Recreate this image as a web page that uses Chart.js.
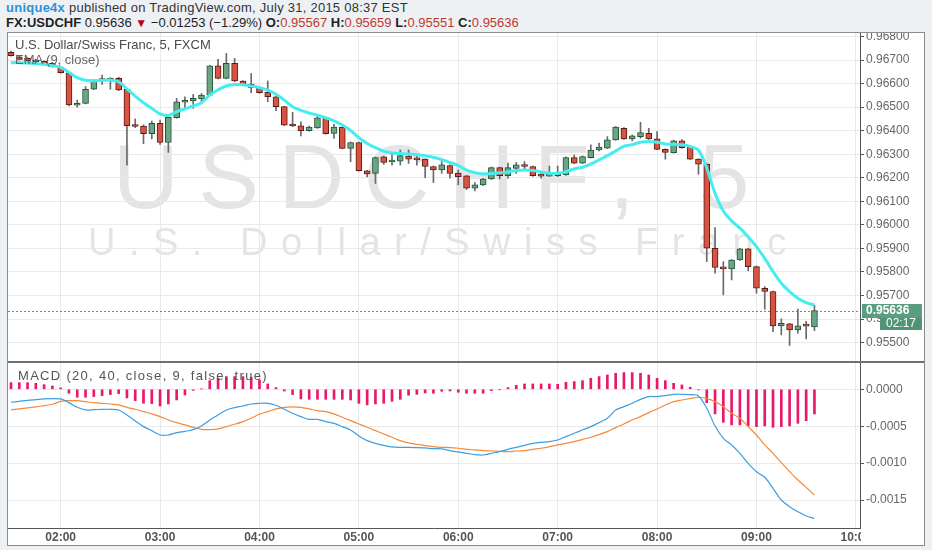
<!DOCTYPE html>
<html><head><meta charset="utf-8">
<script src="https://cdn.jsdelivr.net/npm/chart.js@4.4.0/dist/chart.umd.min.js"></script>
<style>
html,body{margin:0;padding:0;background:#eef1f4;width:932px;height:550px;overflow:hidden;font-family:'Liberation Sans',Arial,sans-serif;}
.abs{position:absolute;white-space:nowrap}
#hdr1{left:6px;top:0;font-size:13px;line-height:15px;color:#333;letter-spacing:0.25px}
#hdr1 .user{color:#2a93d5;font-weight:bold}
#hdr2{left:6px;top:15px;font-size:13px;line-height:15px;color:#222}
#hdr2 b{font-weight:bold}
#hdr2 .r{color:#c0392b}
#hdr2 .dn{color:#c0001b;font-size:12px}
#frame{left:7px;top:32px;width:918px;height:514px;box-sizing:border-box;border:1px solid #8c8c8c;background:#fff}
#p1{left:8px;top:33px;width:916px;height:329px}
#sep{left:8px;top:361px;width:916px;height:2px;background:#707070}
#p2{left:8px;top:363px;width:916px;height:182px}
#t1{left:15px;top:37px;font-size:13px;line-height:15px;color:#4a4a4a;z-index:5}
#t2{left:15px;top:52px;font-size:13px;line-height:15px;color:#666;z-index:5}
#t3{left:18px;top:368px;font-size:13px;line-height:15px;color:#555;letter-spacing:1.3px;z-index:5}
</style></head>
<body>
<div id="hdr1" class="abs"><span class="user">unique4x</span> published on TradingView.com, July 31, 2015 08:37 EST</div>
<div id="hdr2" class="abs"></div>
<div id="frame" class="abs"></div>
<div id="p1" class="abs"><canvas id="c1"></canvas></div>
<div id="sep" class="abs"></div>
<div id="p2" class="abs"><canvas id="c2"></canvas></div>
<div id="t1" class="abs">U.S. Dollar/Swiss Franc, 5, FXCM</div>
<div id="t2" class="abs">EMA (9, close)</div>
<div id="t3" class="abs">MACD (20, 40, close, 9, false, true)</div>
<script>
// ---- data (5-minute bars, 01:30 .. 09:35) ----
const open = [0.96733,0.96714,0.96707,0.96700,0.96694,0.96686,0.96669,0.96646,0.96508,0.96516,
0.96576,0.96618,0.96612,0.96622,0.96576,0.96422,0.96420,0.96387,0.96431,0.96350,
0.96455,0.96521,0.96527,0.96535,0.96551,0.96675,0.96622,0.96686,0.96611,0.96598,
0.96584,0.96563,0.96544,0.96502,0.96428,0.96421,0.96400,0.96412,0.96455,0.96388,
0.96414,0.96325,0.96350,0.96230,0.96219,0.96289,0.96267,0.96271,0.96292,0.96279,
0.96279,0.96248,0.96233,0.96252,0.96219,0.96208,0.96156,0.96170,0.96195,0.96243,
0.96209,0.96240,0.96252,0.96248,0.96209,0.96207,0.96209,0.96212,0.96286,0.96262,
0.96286,0.96318,0.96326,0.96361,0.96410,0.96365,0.96375,0.96389,0.96365,0.96321,
0.96307,0.96357,0.96330,0.96279,0.96258,0.95901,0.95819,0.95813,0.95851,0.95898,
0.95823,0.95731,0.95717,0.95571,0.95580,0.95554,0.95573,0.95567];
const high = [0.96738,0.96718,0.96710,0.96703,0.96697,0.96689,0.96672,0.96648,0.96530,0.96587,
0.96617,0.96636,0.96625,0.96627,0.96578,0.96450,0.96425,0.96441,0.96445,0.96460,
0.96537,0.96544,0.96554,0.96558,0.96678,0.96703,0.96728,0.96707,0.96613,0.96643,
0.96587,0.96611,0.96546,0.96504,0.96478,0.96438,0.96420,0.96462,0.96458,0.96427,
0.96416,0.96352,0.96352,0.96232,0.96288,0.96292,0.96306,0.96318,0.96318,0.96296,
0.96281,0.96250,0.96269,0.96255,0.96233,0.96210,0.96180,0.96198,0.96246,0.96245,
0.96262,0.96265,0.96269,0.96250,0.96219,0.96250,0.96250,0.96289,0.96297,0.96293,
0.96340,0.96347,0.96375,0.96418,0.96413,0.96382,0.96436,0.96410,0.96396,0.96323,
0.96360,0.96362,0.96332,0.96281,0.96260,0.95989,0.95844,0.95853,0.95900,0.95900,
0.95825,0.95738,0.95719,0.95601,0.95582,0.95643,0.95590,0.95659];
const low = [0.96716,0.96700,0.96694,0.96689,0.96683,0.96670,0.96644,0.96505,0.96500,0.96514,
0.96574,0.96597,0.96576,0.96570,0.96254,0.96413,0.96345,0.96365,0.96342,0.96308,
0.96453,0.96495,0.96495,0.96516,0.96549,0.96620,0.96620,0.96608,0.96595,0.96561,
0.96559,0.96523,0.96485,0.96422,0.96417,0.96378,0.96398,0.96410,0.96385,0.96367,
0.96323,0.96268,0.96228,0.96204,0.96176,0.96257,0.96254,0.96254,0.96261,0.96254,
0.96201,0.96180,0.96219,0.96198,0.96170,0.96150,0.96144,0.96167,0.96193,0.96195,
0.96198,0.96219,0.96233,0.96206,0.96198,0.96206,0.96205,0.96210,0.96260,0.96260,
0.96284,0.96314,0.96324,0.96359,0.96363,0.96357,0.96368,0.96363,0.96319,0.96279,
0.96305,0.96326,0.96277,0.96215,0.95844,0.95795,0.95703,0.95766,0.95849,0.95805,
0.95710,0.95642,0.95547,0.95533,0.95488,0.95540,0.95516,0.95551];
const close = [0.96719,0.96703,0.96697,0.96692,0.96686,0.96672,0.96646,0.96509,0.96514,0.96576,
0.96615,0.96613,0.96622,0.96573,0.96421,0.96418,0.96387,0.96431,0.96350,0.96457,
0.96523,0.96525,0.96537,0.96551,0.96675,0.96622,0.96686,0.96611,0.96597,0.96584,
0.96561,0.96544,0.96502,0.96424,0.96420,0.96400,0.96415,0.96455,0.96387,0.96415,
0.96325,0.96350,0.96230,0.96216,0.96286,0.96265,0.96269,0.96294,0.96279,0.96276,
0.96248,0.96233,0.96255,0.96219,0.96205,0.96156,0.96170,0.96195,0.96243,0.96209,
0.96243,0.96255,0.96248,0.96209,0.96207,0.96210,0.96215,0.96286,0.96262,0.96290,
0.96318,0.96330,0.96361,0.96415,0.96365,0.96378,0.96392,0.96365,0.96321,0.96308,
0.96357,0.96328,0.96279,0.96258,0.95901,0.95819,0.95813,0.95851,0.95898,0.95823,
0.95731,0.95717,0.95571,0.95582,0.95554,0.95571,0.95570,0.95636];
const ema9 = [0.96689,0.96689,0.96687,0.96685,0.96682,0.96676,0.96669,0.96648,0.96625,0.96614,
0.96612,0.96614,0.96615,0.96608,0.96577,0.96547,0.96519,0.96495,0.96471,0.96465,
0.96481,0.96493,0.96505,0.96519,0.96551,0.96574,0.96590,0.96596,0.96595,0.96590,
0.96583,0.96572,0.96555,0.96530,0.96502,0.96486,0.96475,0.96466,0.96455,0.96442,
0.96424,0.96401,0.96370,0.96346,0.96328,0.96313,0.96305,0.96303,0.96301,0.96298,
0.96294,0.96287,0.96277,0.96265,0.96252,0.96233,0.96222,0.96216,0.96218,0.96221,
0.96225,0.96231,0.96233,0.96231,0.96225,0.96219,0.96219,0.96226,0.96238,0.96245,
0.96258,0.96276,0.96294,0.96314,0.96334,0.96341,0.96351,0.96354,0.96351,0.96344,
0.96342,0.96340,0.96333,0.96317,0.96241,0.96134,0.96059,0.96017,0.95986,0.95950,
0.95908,0.95858,0.95802,0.95752,0.95717,0.95689,0.95670,0.95660];
const macdLine = [-0.000176,-0.000163,-0.000149,-0.000140,-0.000131,-0.000126,-0.000131,-0.000181,-0.000244,-0.000280,
-0.000276,-0.000271,-0.000271,-0.000280,-0.000348,-0.000429,-0.000506,-0.000560,-0.000619,-0.000619,
-0.000587,-0.000569,-0.000546,-0.000497,-0.000416,-0.000348,-0.000280,-0.000248,-0.000226,-0.000199,
-0.000190,-0.000190,-0.000217,-0.000271,-0.000325,-0.000370,-0.000407,-0.000407,-0.000438,-0.000461,
-0.000506,-0.000551,-0.000632,-0.000696,-0.000732,-0.000759,-0.000781,-0.000786,-0.000786,-0.000790,
-0.000795,-0.000804,-0.000808,-0.000831,-0.000849,-0.000867,-0.000885,-0.000890,-0.000867,-0.000845,
-0.000813,-0.000786,-0.000759,-0.000732,-0.000718,-0.000709,-0.000687,-0.000641,-0.000596,-0.000551,
-0.000506,-0.000452,-0.000393,-0.000280,-0.000235,-0.000190,-0.000136,-0.000099,-0.000099,-0.000086,
-0.000068,-0.000068,-0.000072,-0.000090,-0.000257,-0.000497,-0.000664,-0.000754,-0.000867,-0.001003,
-0.001116,-0.001192,-0.001341,-0.001500,-0.001590,-0.001658,-0.001716,-0.001748];
const signalLine = [-0.000280,-0.000266,-0.000253,-0.000239,-0.000221,-0.000203,-0.000163,-0.000154,-0.000154,-0.000167,
-0.000181,-0.000190,-0.000199,-0.000212,-0.000244,-0.000271,-0.000303,-0.000334,-0.000370,-0.000416,
-0.000452,-0.000483,-0.000515,-0.000542,-0.000546,-0.000537,-0.000506,-0.000474,-0.000438,-0.000393,
-0.000339,-0.000303,-0.000266,-0.000244,-0.000239,-0.000244,-0.000266,-0.000289,-0.000303,-0.000334,
-0.000379,-0.000425,-0.000470,-0.000515,-0.000560,-0.000605,-0.000650,-0.000696,-0.000727,-0.000745,
-0.000763,-0.000777,-0.000786,-0.000790,-0.000799,-0.000813,-0.000822,-0.000831,-0.000836,-0.000840,
-0.000845,-0.000836,-0.000831,-0.000813,-0.000799,-0.000777,-0.000754,-0.000732,-0.000709,-0.000678,
-0.000650,-0.000614,-0.000574,-0.000519,-0.000470,-0.000416,-0.000370,-0.000316,-0.000266,-0.000212,
-0.000167,-0.000145,-0.000126,-0.000108,-0.000126,-0.000167,-0.000235,-0.000325,-0.000393,-0.000506,
-0.000619,-0.000754,-0.000867,-0.000994,-0.001116,-0.001229,-0.001328,-0.001432];
const histogram = [0.000090,0.000090,0.000090,0.000081,0.000063,0.000045,0.000018,-0.000054,-0.000108,-0.000108,
-0.000099,-0.000086,-0.000072,-0.000059,-0.000117,-0.000154,-0.000190,-0.000194,-0.000226,-0.000199,
-0.000145,-0.000077,-0.000014,0.000005,0.000117,0.000149,0.000172,0.000172,0.000172,0.000163,
0.000126,0.000072,0.000023,-0.000023,-0.000072,-0.000131,-0.000136,-0.000136,-0.000136,-0.000136,
-0.000136,-0.000145,-0.000190,-0.000212,-0.000199,-0.000190,-0.000163,-0.000136,-0.000081,-0.000068,
-0.000050,-0.000054,-0.000027,-0.000023,-0.000041,-0.000054,-0.000054,-0.000054,-0.000018,-0.000005,
0.000023,0.000054,0.000072,0.000072,0.000072,0.000072,0.000068,0.000095,0.000104,0.000117,
0.000149,0.000172,0.000194,0.000217,0.000226,0.000226,0.000217,0.000194,0.000149,0.000117,
0.000081,0.000059,0.000027,-0.000009,-0.000181,-0.000334,-0.000447,-0.000483,-0.000483,-0.000497,
-0.000506,-0.000497,-0.000515,-0.000506,-0.000497,-0.000461,-0.000425,-0.000334];
const hourBars = [6,18,30,42,54,66,78,90,102];
const hourLabels = ['02:00','03:00','04:00','05:00','06:00','07:00','08:00','09:00','10:00'];
const priceTicks = [0.955,0.956,0.957,0.958,0.959,0.960,0.961,0.962,0.963,0.964,0.965,0.966,0.967,0.968];
const macdTicks = [0,-0.0005,-0.0010,-0.0015];
const countdown = '02:17';
const symbolName = 'USDCHF, 5';
const symbolDesc = 'U.S. Dollar/Swiss Franc';
const change = '\u22120.01253 (\u22121.29%)';

// ---- header from data ----
const L = close.length - 1;
document.getElementById('hdr2').innerHTML =
  '<b>FX:USDCHF</b> ' + close[L].toFixed(5) + ' <span class="dn">\u25BC</span> ' + change +
  ' <b>O:</b><span class="r">' + open[L].toFixed(5) + '</span> <b>H:</b><span class="r">' + high[L].toFixed(5) +
  '</span> <b>L:</b><span class="r">' + low[L].toFixed(5) + '</span> <b>C:</b><span class="r">' + close[L].toFixed(5) + '</span>';

const idx = close.map((_, i) => i);
const UPF = '#6ba583', DNF = '#d75442', UPB = '#225437', DNB = '#5b1a13';
const FONT = "'Liberation Sans', Arial, sans-serif";
const GRID = '#e9e9e9';
const X_MIN = -0.36, X_MAX = 102.5;

function fitRight(s){ s.width = 64; s.paddingTop = 0; s.paddingBottom = 0; }
function hourTicks(s){ s.ticks = hourBars.map(v => ({value: v})); }

function spaced(ctx, text, x, y, gap){
  for (const ch of text){ ctx.fillText(ch, x, y); x += ctx.measureText(ch).width + gap; }
}

const pricePlugin = {
  id: 'pricePlugin',
  beforeDraw(chart){
    const ctx = chart.ctx; ctx.save();
    ctx.fillStyle = '#e4e4e4'; ctx.textBaseline = 'alphabetic';
    ctx.font = '91px ' + FONT; spaced(ctx, symbolName, 105, 175, 19.5);
    ctx.font = '38px ' + FONT; spaced(ctx, symbolDesc, 80, 222, 13.5);
    ctx.restore();
  },
  beforeDatasetsDraw(chart){
    const ctx = chart.ctx, a = chart.chartArea, y = chart.scales.y.getPixelForValue(close[L]);
    ctx.save(); ctx.strokeStyle = '#4f9c86'; ctx.lineWidth = 1; ctx.setLineDash([2,2]);
    ctx.beginPath(); ctx.moveTo(a.left, Math.round(y)+0.5); ctx.lineTo(a.right, Math.round(y)+0.5); ctx.stroke();
    ctx.restore();
  },
  afterDraw(chart){
    const ctx = chart.ctx, a = chart.chartArea, y = Math.round(chart.scales.y.getPixelForValue(close[L]));
    ctx.save();
    ctx.fillStyle = '#5a9e80'; ctx.fillRect(a.right + 2, y - 7, 60, 14);
    ctx.fillStyle = '#4f9474'; ctx.fillRect(a.right + 20, y + 7, 42, 12);
    ctx.fillStyle = '#fff'; ctx.textBaseline = 'middle';
    ctx.font = 'bold 12px ' + FONT; ctx.fillText(close[L].toFixed(5), a.right + 6, y);
    ctx.font = '12px ' + FONT; ctx.fillText(countdown, a.right + 26, y + 13);
    ctx.restore();
  }
};

new Chart(document.getElementById('c1'), {
  type: 'bar',
  data: { datasets: [
    { type: 'line', data: idx.map(i => ({x: i, y: ema9[i]})), borderColor: '#44eef0', borderWidth: 3,
      pointRadius: 0, tension: 0.35, order: 1 },
    { data: idx.map(i => ({x: i, y: [open[i], close[i]]})), grouped: false, barThickness: 6, minBarLength: 2,
      backgroundColor: idx.map(i => close[i] > open[i] ? UPF : DNF),
      borderColor: idx.map(i => close[i] > open[i] ? UPB : DNB), borderWidth: 1, borderSkipped: false, order: 2 },
    { data: idx.map(i => ({x: i, y: [low[i], high[i]]})), grouped: false, barThickness: 1,
      backgroundColor: '#6a6a6c', order: 3 }
  ]},
  options: {
    responsive: true, maintainAspectRatio: false, animation: false, events: [],
    layout: { padding: 0 },
    plugins: { legend: {display: false}, tooltip: {enabled: false} },
    scales: {
      x: { type: 'linear', min: X_MIN, max: X_MAX, offset: false,
        afterBuildTicks: hourTicks, ticks: {display: false},
        grid: {color: GRID, drawTicks: false, offset: false}, border: {display: false},
        afterFit(s){ s.height = 0; s.paddingLeft = 0; s.paddingRight = 0; } },
      y: { type: 'linear', position: 'right', min: 0.954178, max: 0.968149,
        afterBuildTicks(s){ s.ticks = priceTicks.map(v => ({value: v})); },
        ticks: { callback: v => v.toFixed(5), color: '#666', padding: 2, font: {family: FONT, size: 12} },
        grid: { color: GRID, tickColor: '#555', tickLength: 4 },
        border: { display: true, color: '#555', width: 1 },
        afterFit: fitRight }
    }
  },
  plugins: [pricePlugin]
});

const maskPlugin = {
  id: 'maskPlugin',
  afterDraw(chart){
    const a = chart.chartArea, ctx = chart.ctx;
    ctx.save(); ctx.fillStyle = '#fff';
    ctx.fillRect(a.right + 1, a.bottom + 4, chart.width - a.right, chart.height - a.bottom);
    ctx.restore();
  }
};

new Chart(document.getElementById('c2'), {
  type: 'bar',
  data: { datasets: [
    { type: 'line', data: idx.map(i => ({x: i, y: macdLine[i]})), borderColor: '#3b9ee3', borderWidth: 1.2,
      pointRadius: 0, tension: 0.3, order: 1 },
    { type: 'line', data: idx.map(i => ({x: i, y: signalLine[i]})), borderColor: '#f5893a', borderWidth: 1.2,
      pointRadius: 0, tension: 0.3, order: 2 },
    { data: idx.map(i => ({x: i, y: histogram[i]})), grouped: false, barThickness: 2,
      backgroundColor: '#e8186b', order: 3 }
  ]},
  options: {
    responsive: true, maintainAspectRatio: false, animation: false, events: [],
    layout: { padding: 0 },
    plugins: { legend: {display: false}, tooltip: {enabled: false} },
    scales: {
      x: { type: 'linear', min: X_MIN, max: X_MAX, offset: false,
        afterBuildTicks: hourTicks,
        ticks: { callback: v => hourLabels[hourBars.indexOf(v)], color: '#555', padding: 2, maxRotation: 0,
          autoSkip: false, font: {family: FONT, size: 12, weight: 'bold'} },
        grid: {color: GRID, drawTicks: false, offset: false},
        border: {display: true, color: '#555', width: 1},
        afterFit(s){ s.height = 17; s.paddingLeft = 0; s.paddingRight = 0; } },
      y: { type: 'linear', position: 'right', min: -0.001879, max: 0.000356,
        afterBuildTicks(s){ s.ticks = macdTicks.map(v => ({value: v})); },
        ticks: { callback: v => (v === 0 ? '0.0000' : v.toFixed(4)), color: '#666', padding: 2,
          font: {family: FONT, size: 12} },
        grid: { color: GRID, tickColor: '#555', tickLength: 4 },
        border: { display: true, color: '#555', width: 1 },
        afterFit: fitRight }
    }
  },
  plugins: [maskPlugin]
});
</script>
</body></html>
